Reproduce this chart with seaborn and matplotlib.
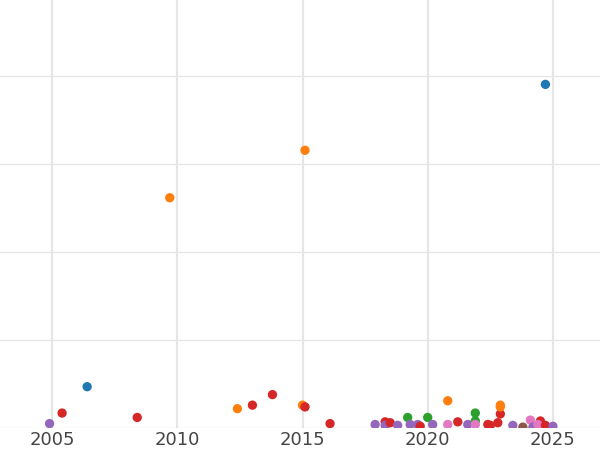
import pandas as pd
import seaborn as sns
import matplotlib.pyplot as plt

years = [2004.9, 2005.4, 2006.4, 2008.4, 2009.7, 2012.4, 2013.0, 2013.8, 2015.0, 2015.1, 2015.1,
         2016.1, 2017.9, 2018.3, 2018.3, 2018.5, 2018.8, 2019.2, 2019.3, 2019.6, 2019.7, 2020.0,
         2020.2, 2020.8, 2020.8, 2021.2, 2021.6, 2021.9, 2021.9, 2021.9, 2022.4, 2022.5, 2022.8,
         2022.9, 2022.9, 2022.9, 2023.4, 2023.8, 2024.1, 2024.2, 2024.5, 2024.4, 2024.7, 2025.0,
         2024.7]
values = [0.05, 0.17, 0.47, 0.12, 2.62, 0.22, 0.26, 0.38, 0.26, 0.24, 3.16,
          0.05, 0.04, 0.07, 0.03, 0.06, 0.03, 0.12, 0.04, 0.04, 0.02, 0.12,
          0.04, 0.04, 0.31, 0.07, 0.04, 0.17, 0.08, 0.04, 0.04, 0.03, 0.06,
          0.16, 0.26, 0.24, 0.03, 0.01, 0.09, 0.01, 0.08, 0.04, 0.03, 0.02,
          3.91]
groups = ['purple', 'red', 'blue', 'red', 'orange', 'orange', 'red', 'red', 'orange', 'red', 'orange',
          'red', 'purple', 'red', 'purple', 'red', 'purple', 'green', 'purple', 'purple', 'red', 'green',
          'purple', 'pink', 'orange', 'red', 'purple', 'green', 'green', 'pink', 'red', 'red', 'red',
          'red', 'orange', 'orange', 'purple', 'brown', 'pink', 'purple', 'red', 'pink', 'red', 'purple',
          'blue']

palette = {'blue': '#1f77b4', 'orange': '#ff7f0e', 'green': '#2ca02c', 'red': '#d62728',
           'purple': '#9467bd', 'brown': '#8c564b', 'pink': '#e377c2'}

df = pd.DataFrame({'year': years, 'value': values, 'group': groups})

sns.set_style('whitegrid')
fig = plt.figure(figsize=(6, 4.5), dpi=100)
ax = fig.add_axes([0, 428 / 450 * 0 + 22 / 450, 1, 428 / 450])
sns.scatterplot(data=df, x='year', y='value', hue='group', palette=palette,
                s=45, edgecolor='none', legend=False, ax=ax)
ax.set_xlim(2002.92, 2026.88)
ax.set_ylim(0, 4.87)
ax.set_xticks([2005, 2010, 2015, 2020, 2025])
ax.set_yticks([0, 1, 2, 3, 4])
ax.set_yticklabels([])
ax.set_xlabel('')
ax.set_ylabel('')
ax.tick_params(axis='x', labelsize=13, colors='#444444', length=0, pad=2)
ax.tick_params(axis='y', length=0)
ax.grid(color='#e6e6e6', linewidth=1)
ax.grid(axis='x', linewidth=1.5)
sns.despine(left=True, bottom=True)
fig.savefig('out.png')
